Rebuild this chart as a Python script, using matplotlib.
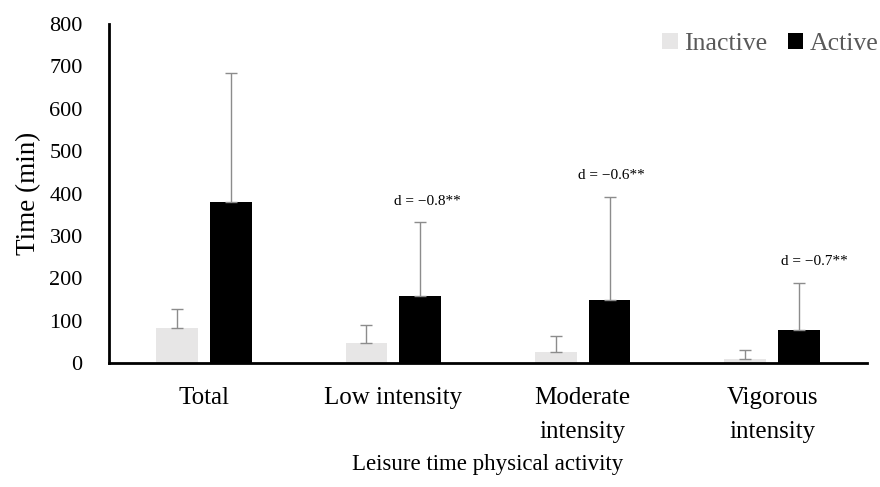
import numpy as np
import matplotlib
matplotlib.use("Agg")
import matplotlib.pyplot as plt

plt.rcParams['font.family'] = ['Liberation Serif', 'DejaVu Serif']

categories = ["Total", "Low intensity", "Moderate\nintensity", "Vigorous\nintensity"]
inactive_mean = [82, 48, 27, 9]
inactive_sd = [45, 42, 37, 22]
active_mean = [380, 158, 148, 78]
active_sd = [304, 174, 244, 112]
effect_labels = ["", "d = \u22120.8**", "d = \u22120.6**", "d = \u22120.7**"]
label_shift = [0, 0.04, 0.01, 0.08]

x = np.arange(len(categories))
w = 0.22
off = 0.142

fig = plt.figure(figsize=(8.8, 4.87), dpi=100)
ax = fig.add_axes([0.124, 0.2546, 0.861, 0.696])

err_kw = dict(ecolor='#8c8c8c', elinewidth=1, capsize=4.5, capthick=1)
ax.bar(x - off, inactive_mean, w, color='#e7e6e6', label='Inactive',
       yerr=[np.zeros(4), inactive_sd], error_kw=err_kw)
ax.bar(x + off, active_mean, w, color='black', label='Active',
       yerr=[np.zeros(4), active_sd], error_kw=err_kw)

# effect sizes above active bars
for i, lab in enumerate(effect_labels):
    if lab:
        top = active_mean[i] + active_sd[i]
        ax.text(x[i] + off + label_shift[i], top + 35, lab, ha='center', va='bottom', fontsize=11)

ax.set_xlim(-0.5, 3.5)
ax.set_ylim(0, 800)
ax.set_yticks(range(0, 801, 100))
ax.set_xticks(x)
ax.set_xticklabels(categories, fontsize=18, linespacing=1.75)
ax.tick_params(axis='y', length=0, labelsize=16, pad=19)
ax.tick_params(axis='x', length=0, pad=17)

for s in ['top', 'right']:
    ax.spines[s].set_visible(False)
ax.spines['left'].set_linewidth(2)
ax.spines['bottom'].set_linewidth(2)

ax.set_ylabel("Time (min)", fontsize=19.5, labelpad=6)
ax.set_xlabel("Leisure time physical activity", fontsize=16.5, labelpad=8)

leg = ax.legend(loc='upper right', bbox_to_anchor=(1.046, 1.043), ncol=2, frameon=False,
                fontsize=18.5, handlelength=0.6, handleheight=0.6, handletextpad=0.25,
                columnspacing=0.8)
for t in leg.get_texts():
    t.set_color('#595959')

fig.savefig("out.png", dpi=100)
